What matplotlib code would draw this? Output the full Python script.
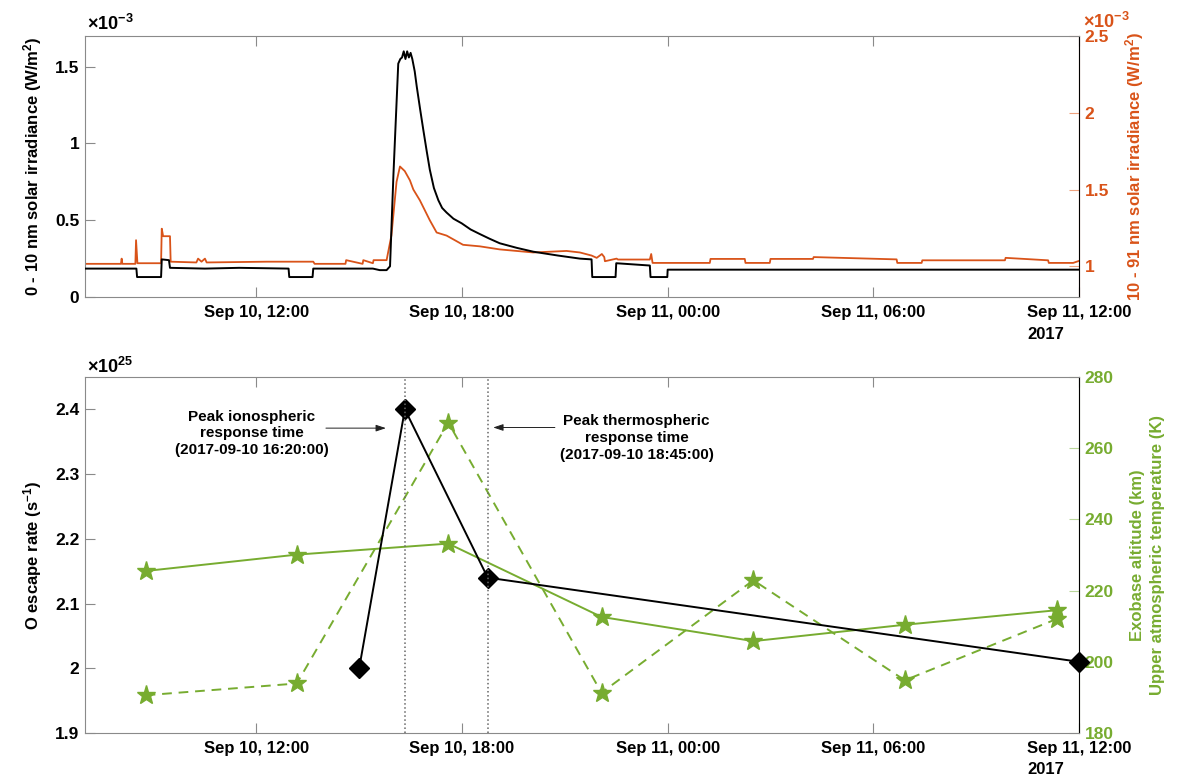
#!/usr/bin/env python3
"""Solar flare irradiance and Mars upper atmosphere response, 10-11 Sep 2017."""
import matplotlib
matplotlib.use("Agg")
import matplotlib.pyplot as plt
import matplotlib.dates as mdates
import numpy as np
import pandas as pd

plt.rcParams["font.family"] = ["Liberation Sans", "DejaVu Sans"]
plt.rcParams["font.weight"] = "bold"
plt.rcParams["axes.labelweight"] = "bold"
plt.rcParams["mathtext.fontset"] = "custom"
plt.rcParams["mathtext.rm"] = "Liberation Sans:bold"
plt.rcParams["mathtext.bf"] = "Liberation Sans:bold"
plt.rcParams["mathtext.default"] = "bf"

DAY0 = pd.Timestamp("2017-09-10")

# 0-10 nm irradiance (x1e-3 W/m^2), hours after Sep 10 00:00
euv_short_t = [7.0, 8.50, 8.52, 9.22, 9.24, 9.45, 9.48, 10.5, 11.5, 12.94, 12.96, 13.64, 13.66,
               15.4, 15.6, 15.8, 15.9, 16.0, 16.14, 16.2, 16.25, 16.3, 16.35, 16.4, 16.45, 16.5,
               16.55, 16.62, 16.68, 16.78, 16.87, 16.97, 17.06, 17.18, 17.31, 17.42, 17.55,
               17.75, 17.99, 18.25, 18.52, 18.8, 19.1, 19.6, 20.08, 20.8, 21.44,
               21.78, 21.80, 22.48, 22.50, 23.48, 23.50, 23.99, 24.0, 36.0]
euv_short = [0.185, 0.185, 0.13, 0.13, 0.245, 0.24, 0.19, 0.185, 0.19, 0.185, 0.13, 0.13, 0.185,
             0.185, 0.175, 0.175, 0.2, 0.8, 1.52, 1.55, 1.56, 1.6, 1.55, 1.6, 1.56, 1.59,
             1.55, 1.47, 1.37, 1.22, 1.09, 0.95, 0.83, 0.71, 0.63, 0.58, 0.55,
             0.51, 0.48, 0.44, 0.41, 0.38, 0.35, 0.32, 0.295, 0.27, 0.25,
             0.245, 0.13, 0.13, 0.22, 0.205, 0.13, 0.13, 0.178, 0.178]

# 10-91 nm irradiance (x1e-3 W/m^2)
euv_long_t = [7.0, 8.05, 8.07, 8.09, 8.47, 8.49, 8.53, 9.22, 9.24, 9.28, 9.48, 9.50, 10.25,
              10.3, 10.4, 10.5, 10.55, 12.3, 13.66, 13.7, 14.6, 14.62, 15.1, 15.12, 15.4, 15.42,
              15.8, 15.94, 16.09, 16.19, 16.33, 16.48, 16.58, 16.77, 17.06, 17.26, 17.55,
              18.03, 18.52, 19.1, 20.08, 21.05, 21.44, 21.78, 21.93, 22.08, 22.15, 22.17,
              22.51, 22.55, 23.48, 23.52, 23.56, 25.23, 25.25, 26.25, 26.27, 26.98, 27.0,
              28.24, 28.26, 30.68, 30.70, 31.41, 31.43, 33.84, 33.86, 35.1, 35.12, 35.83, 36.0]
euv_long = [1.016, 1.016, 1.05, 1.016, 1.016, 1.17, 1.02, 1.02, 1.245, 1.196, 1.196, 1.03, 1.025,
            1.05, 1.03, 1.05, 1.025, 1.03, 1.03, 1.016, 1.016, 1.04, 1.016, 1.04, 1.02, 1.04,
            1.04, 1.2, 1.55, 1.65, 1.62, 1.56, 1.50, 1.43, 1.30, 1.22, 1.20,
            1.14, 1.13, 1.11, 1.09, 1.10, 1.09, 1.07, 1.055, 1.08, 1.06, 1.033,
            1.05, 1.044, 1.044, 1.08, 1.022, 1.022, 1.048, 1.048, 1.022, 1.022, 1.048,
            1.048, 1.06, 1.045, 1.022, 1.022, 1.039, 1.039, 1.055, 1.039, 1.022, 1.022, 1.035]

# O escape rate (x1e25 s^-1)
escape_t = [15.0, 16 + 20 / 60, 18.75, 36.0]
escape = [2.00, 2.40, 2.14, 2.01]

# exobase altitude (km) and upper atmospheric temperature (K)
orbit_t = [8.77, 13.18, 17.6, 22.07, 26.5, 30.92, 35.37]
exobase_alt = [225.5, 230.1, 233.2, 212.6, 205.8, 210.4, 214.5]
upper_temp = [190.6, 193.9, 267.2, 191.3, 222.9, 194.8, 212.1]

peak_iono = 16 + 20 / 60
peak_thermo = 18.75

BLACK = "#000000"
ORANGE = "#D95319"
GREEN = "#77AC30"
SPINE = "#8a8a8a"


def to_time(hours):
    return DAY0 + pd.to_timedelta(np.asarray(hours, dtype=float), unit="h")


def style_time_axis(ax):
    ax.set_xlim(to_time(7.0), to_time(36.0))
    ax.xaxis.set_major_locator(mdates.HourLocator(byhour=[0, 6, 12, 18]))
    ax.xaxis.set_major_formatter(mdates.DateFormatter("%b %d, %H:%M"))
    ax.tick_params(axis="x", which="both", direction="in", length=7, width=0.8,
                   color=SPINE, labelsize=12, pad=6, top=True)
    ax.tick_params(axis="y", direction="in", length=7, width=0.8, color=SPINE,
                   labelsize=12.5, pad=4)
    for s in ["left", "bottom", "top"]:
        ax.spines[s].set_color(SPINE)
        ax.spines[s].set_linewidth(0.8)
    ax.yaxis.set_major_formatter(plt.FuncFormatter(lambda v, p: f"{v:g}"))
    ax.annotate("2017", xy=(1, 0), xycoords="axes fraction", xytext=(-52, -37),
                textcoords="offset pixels", ha="left", va="center", fontsize=12)


def style_right_axis(ax, color, spine_color):
    ax.tick_params(axis="y", direction="in", length=7, width=0.8, color=spine_color,
                   labelcolor=color, labelsize=12.5, pad=4)
    ax.spines["right"].set_color(spine_color)
    ax.spines["right"].set_linewidth(0.8)
    for s in ["left", "bottom", "top"]:
        ax.spines[s].set_visible(False)
    ax.yaxis.set_major_formatter(plt.FuncFormatter(lambda v, p: f"{v:g}"))


fig = plt.figure(figsize=(11.77, 7.82), dpi=100)
ax1 = fig.add_axes([0.0722, 0.6202, 0.8445, 0.3338])
ax2 = fig.add_axes([0.0722, 0.0627, 0.8445, 0.4552])

# top: irradiance
ax1.plot(to_time(euv_short_t), euv_short, color=BLACK, lw=1.4, zorder=3)
ax1.set_ylim(0, 1.7)
ax1.set_yticks([0, 0.5, 1, 1.5])
ax1.set_ylabel("0 - 10 nm solar irradiance (W/m$^2$)", fontsize=12, labelpad=8)
style_time_axis(ax1)
ax1.annotate("×10$^{-3}$", xy=(0, 1), xycoords="axes fraction", xytext=(2, 12),
             textcoords="offset pixels", ha="left", va="center", fontsize=13)

ax1r = ax1.twinx()
ax1r.plot(to_time(euv_long_t), euv_long, color=ORANGE, lw=1.3)
ax1r.set_ylim(0.8, 2.5)
ax1r.set_yticks([1, 1.5, 2, 2.5])
ax1r.set_ylabel("10 - 91 nm solar irradiance (W/m$^2$)", color=ORANGE, fontsize=12,
                labelpad=10)
style_right_axis(ax1r, ORANGE, "#EFA27E")
ax1r.annotate("×10$^{-3}$", xy=(1, 1), xycoords="axes fraction", xytext=(4, 14),
              textcoords="offset pixels", ha="left", va="center", fontsize=13, color=ORANGE)
ax1r.set_xlim(to_time(7.0), to_time(36.0))

# bottom: escape rate and thermosphere
ax2.plot(to_time(escape_t), escape, color=BLACK, lw=1.4, marker="D", ms=10.5,
         mfc=BLACK, mec=BLACK, zorder=3, clip_on=False)
for t in [peak_iono, peak_thermo]:
    ax2.axvline(to_time(t), color="#666666", ls=":", lw=1.1, zorder=5)
ax2.set_ylim(1.9, 2.45)
ax2.set_yticks([1.9, 2.0, 2.1, 2.2, 2.3, 2.4])
ax2.set_ylabel("O escape rate (s$^{-1}$)", fontsize=12, labelpad=8)
style_time_axis(ax2)
ax2.annotate("×10$^{25}$", xy=(0, 1), xycoords="axes fraction", xytext=(2, 10),
             textcoords="offset pixels", ha="left", va="center", fontsize=13)

ax2.text(to_time(11.86), 2.363, "Peak ionospheric\nresponse time\n(2017-09-10 16:20:00)",
         ha="center", va="center", fontsize=11, linespacing=1.25)
ax2.text(to_time(23.09), 2.356, "Peak thermospheric\nresponse time\n(2017-09-10 18:45:00)",
         ha="center", va="center", fontsize=11, linespacing=1.25)
arrow = dict(arrowstyle="-|>,head_length=0.6,head_width=0.2", color="#222222", lw=0.7,
             shrinkA=0, shrinkB=0)
ax2.annotate("", xy=(to_time(15.78), 2.371), xytext=(to_time(14.03), 2.371), arrowprops=arrow)
ax2.annotate("", xy=(to_time(18.91), 2.372), xytext=(to_time(20.71), 2.372), arrowprops=arrow)

ax2r = ax2.twinx()
ax2r.plot(to_time(orbit_t), exobase_alt, color=GREEN, lw=1.4, marker="*", ms=14,
          mfc=GREEN, mec=GREEN)
ax2r.plot(to_time(orbit_t), upper_temp, color=GREEN, lw=1.4, ls=(0, (5, 3.5)), marker="*",
          ms=14, mfc=GREEN, mec=GREEN)
ax2r.set_ylim(180, 280)
ax2r.set_yticks([180, 200, 220, 240, 260, 280])
ax2r.set_ylabel("Exobase altitude (km)\nUpper atmospheric temperature (K)", color=GREEN,
                fontsize=12, labelpad=12, linespacing=1.35)
style_right_axis(ax2r, GREEN, "#B9D79A")
ax2r.set_xlim(to_time(7.0), to_time(36.0))

# keep the left-axis series on top of the twin axes
ax2.set_zorder(ax2r.get_zorder() + 1)
ax2.patch.set_visible(False)
ax1.set_zorder(ax1r.get_zorder() + 1)
ax1.patch.set_visible(False)

fig.savefig("out.png", dpi=100)
plt.close(fig)
